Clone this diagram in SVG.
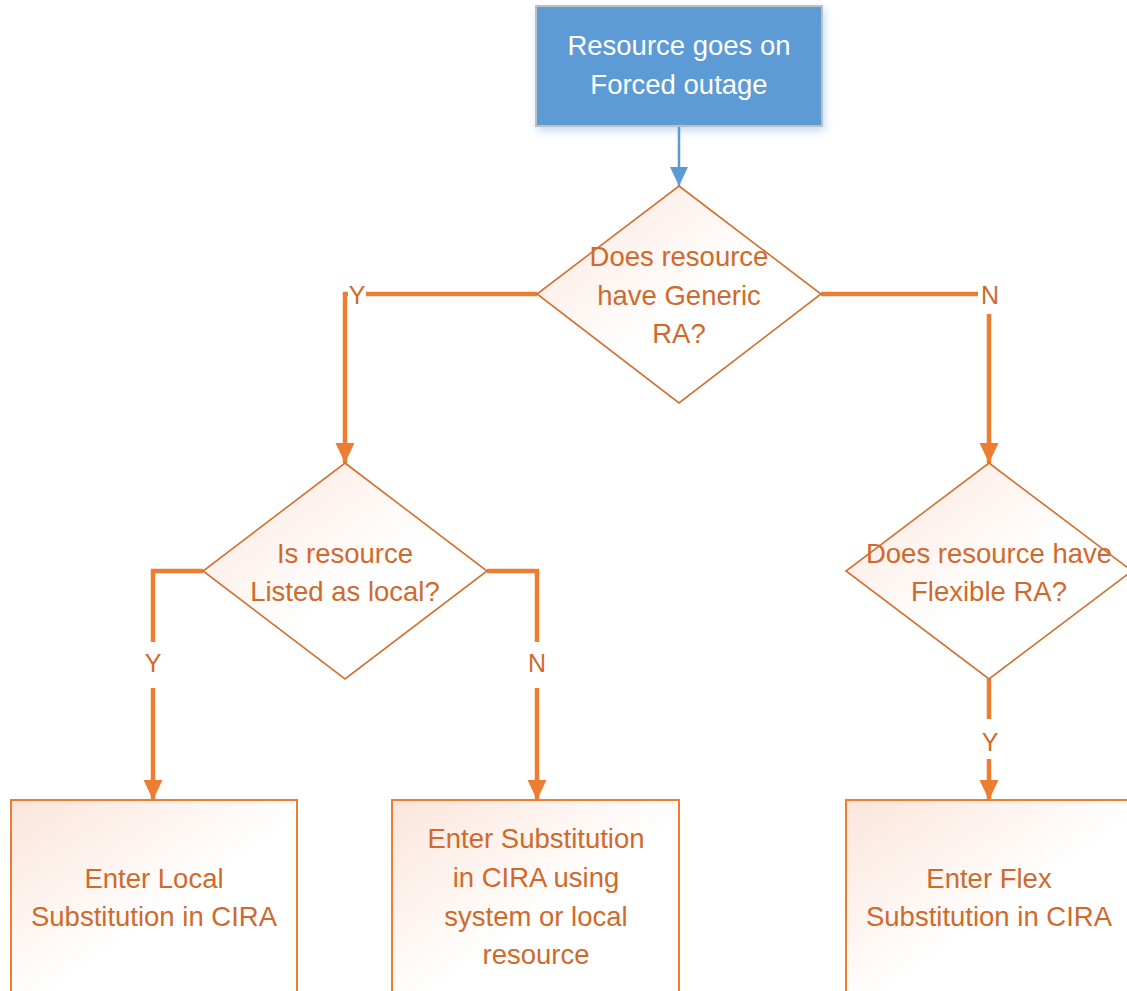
<svg xmlns="http://www.w3.org/2000/svg" width="1127" height="991" viewBox="0 0 1127 991">
<style>
.lbl{font-family:"Liberation Sans",Arial,sans-serif;font-size:27.5px;fill:#D06A2C;text-anchor:middle}
.wt{fill:#FFFFFF}
.yn{font-family:"Liberation Sans",Arial,sans-serif;font-size:25px;fill:#D06A2C;text-anchor:middle}
.dia{fill:url(#g);stroke:#D4702F;stroke-width:1.6}
.box{fill:url(#g);stroke:#ED7D31;stroke-width:2}
.con{fill:none;stroke:#ED7D31;stroke-width:4.5}
.gap{fill:#FFFFFF}
</style>
<defs>
<linearGradient id="g" x1="0" y1="0" x2="1" y2="1">
<stop offset="0" stop-color="#FBE5DB"/>
<stop offset="0.55" stop-color="#FFFFFF"/>
<stop offset="1" stop-color="#FFFFFF"/>
</linearGradient>
<filter id="sh" x="-10%" y="-20%" width="125%" height="150%">
<feDropShadow dx="2" dy="4" stdDeviation="4" flood-color="#5B9BD5" flood-opacity="0.35"/>
</filter>
<marker id="ao" markerUnits="userSpaceOnUse" markerWidth="20" markerHeight="20" viewBox="0 0 20 20" refX="20" refY="10" orient="auto">
<path d="M0,0.5 L20,10 L0,19.5 Z" fill="#ED7D31"/>
</marker>
<marker id="ab" markerUnits="userSpaceOnUse" markerWidth="19" markerHeight="19" viewBox="0 0 19 19" refX="19" refY="9.5" orient="auto">
<path d="M0,0.5 L19,9.5 L0,18.5 Z" fill="#5B9BD5"/>
</marker>
</defs>
<rect width="1127" height="991" fill="#FFFFFF"/>

<g id="connectors">
<line x1="679" y1="126" x2="679" y2="186" stroke="#5B9BD5" stroke-width="2.5" marker-end="url(#ab)"/>
<path class="con" d="M537,294 H345 V463" marker-end="url(#ao)"/>
<rect class="gap" x="348" y="282" width="18" height="25"/>
<text class="yn" x="357" y="304">Y</text>
<path class="con" d="M821,294 H989 V463" marker-end="url(#ao)"/>
<rect class="gap" x="978" y="282" width="24" height="32"/>
<text class="yn" x="990" y="304">N</text>
<path class="con" d="M203,571 H153 V800" marker-end="url(#ao)"/>
<rect class="gap" x="140" y="642" width="26" height="46"/>
<text class="yn" x="153" y="672">Y</text>
<path class="con" d="M487,571 H537 V800" marker-end="url(#ao)"/>
<rect class="gap" x="524" y="642" width="26" height="46"/>
<text class="yn" x="537" y="672">N</text>
<path class="con" d="M989,679 V800" marker-end="url(#ao)"/>
<rect class="gap" x="976" y="719" width="26" height="40"/>
<text class="yn" x="990" y="751">Y</text>
</g>

<g id="start">
<rect x="536" y="6" width="286" height="120" fill="#5B9BD5" stroke="#BFBFBF" stroke-width="2" filter="url(#sh)"/>
<text class="lbl wt" x="679" y="55">Resource goes on</text>
<text class="lbl wt" x="679" y="94">Forced outage</text>
</g>

<g id="generic">
<polygon class="dia" points="679,186 821,294 679,403 537,294"/>
<text class="lbl" x="679" y="266">Does resource</text>
<text class="lbl" x="679" y="305">have Generic</text>
<text class="lbl" x="679" y="343">RA?</text>
</g>

<g id="local">
<polygon class="dia" points="345,463 487,571 345,679 203,571"/>
<text class="lbl" x="345" y="563">Is resource</text>
<text class="lbl" x="345" y="601">Listed as local?</text>
</g>

<g id="flexible">
<polygon class="dia" points="989,463 1132,571 989,679 846,571"/>
<text class="lbl" x="989" y="563">Does resource have</text>
<text class="lbl" x="989" y="601">Flexible RA?</text>
</g>

<g id="enterLocal">
<rect class="box" x="11" y="800" width="286" height="200"/>
<text class="lbl" x="154" y="888">Enter Local</text>
<text class="lbl" x="154" y="926">Substitution in CIRA</text>
</g>

<g id="enterSub">
<rect class="box" x="392" y="800" width="287" height="200"/>
<text class="lbl" x="536" y="848">Enter Substitution</text>
<text class="lbl" x="536" y="887">in CIRA using</text>
<text class="lbl" x="536" y="926">system or local</text>
<text class="lbl" x="536" y="964">resource</text>
</g>

<g id="enterFlex">
<rect class="box" x="846" y="800" width="286" height="200"/>
<text class="lbl" x="989" y="888">Enter Flex</text>
<text class="lbl" x="989" y="926">Substitution in CIRA</text>
</g>
</svg>
